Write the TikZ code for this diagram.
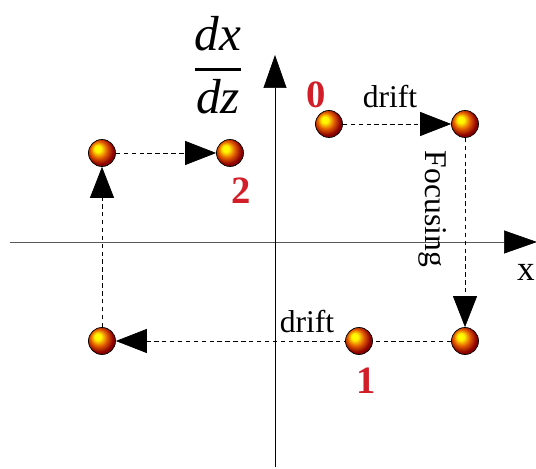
\documentclass[tikz,border=0pt]{standalone}
\usepackage{amsmath}
\usepackage{fontspec}
\setmainfont{Liberation Serif}
\usetikzlibrary{arrows.meta}
\definecolor{numred}{RGB}{210,30,40}
\pgfdeclareradialshading{goldball}{\pgfpoint{-9bp}{9bp}}{%
  color(0bp)=(yellow); color(6bp)=(yellow!92!orange);
  color(15bp)=(orange!85!red!90!black); color(25bp)=(red!55!black);
  color(34bp)=(red!40!black); color(50bp)=(red!40!black)}

\begin{document}
\begin{tikzpicture}[
  >={Triangle[length=0.62cm,width=0.48cm]},
  ball/.style={circle,draw=black,thin,shading=goldball,
               minimum size=0.54cm,inner sep=0pt},
  move/.style={->,thin,dash pattern=on 2.5pt off 2pt},
  axisline/.style={thin,-{Triangle[length=0.66cm,width=0.46cm,color=black]}},
  num/.style={text=numred,font=\fontsize{22}{24}\selectfont\bfseries},
  lbl/.style={font=\fontsize{18}{20}\selectfont,inner sep=1pt}
]
\useasboundingbox (0,0) rectangle (10.72,9.36);
% axes
\coordinate (xl) at (0.2,4.52);
\coordinate (xr) at (10.74,4.52);
\coordinate (yb) at (5.5,0.02);
\coordinate (yt) at (5.5,8.26);
\draw[axisline,black!65] (xl) -- (xr);
\draw[axisline] (yb) -- (yt);
\node[lbl] (xlab) at (10.52,3.92) {\fontsize{20}{22}\selectfont x};
\node (slope) at (4.36,8.05)
  {\fontsize{28}{30}\selectfont$\genfrac{}{}{1.6pt}{0}{\textit{dx}}{\textit{dz}}$};
% particles
\node[ball] (p0) at (6.58,6.88) {};
\node[ball] (pa) at (9.30,6.88) {};
\node[ball] (pb) at (9.30,2.54) {};
\node[ball] (pc) at (2.04,2.54) {};
\node[ball] (pd) at (2.04,6.30) {};
\node[ball] (p2) at (4.60,6.30) {};
\draw[move] (p0) -- (pa);
\draw[move] (pa) -- (pb);
\draw[move] (pb) -- (pc);
\draw[move] (pc) -- (pd);
\draw[move] (pd) -- (p2);
\node[ball] (p1) at (7.18,2.54) {};
% labels
\node[num] (n0) at (6.32,7.46) {0};
\node[num] (n1) at (7.32,1.74) {1};
\node[num] (n2) at (4.82,5.54) {2};
\node[lbl] (drift0) at (7.80,7.42) {drift};
\node[lbl] (drift1) at (6.14,2.92) {drift};
\node[lbl,rotate=-90] (focus) at (8.66,5.18) {Focusing};
\end{tikzpicture}
\end{document}
